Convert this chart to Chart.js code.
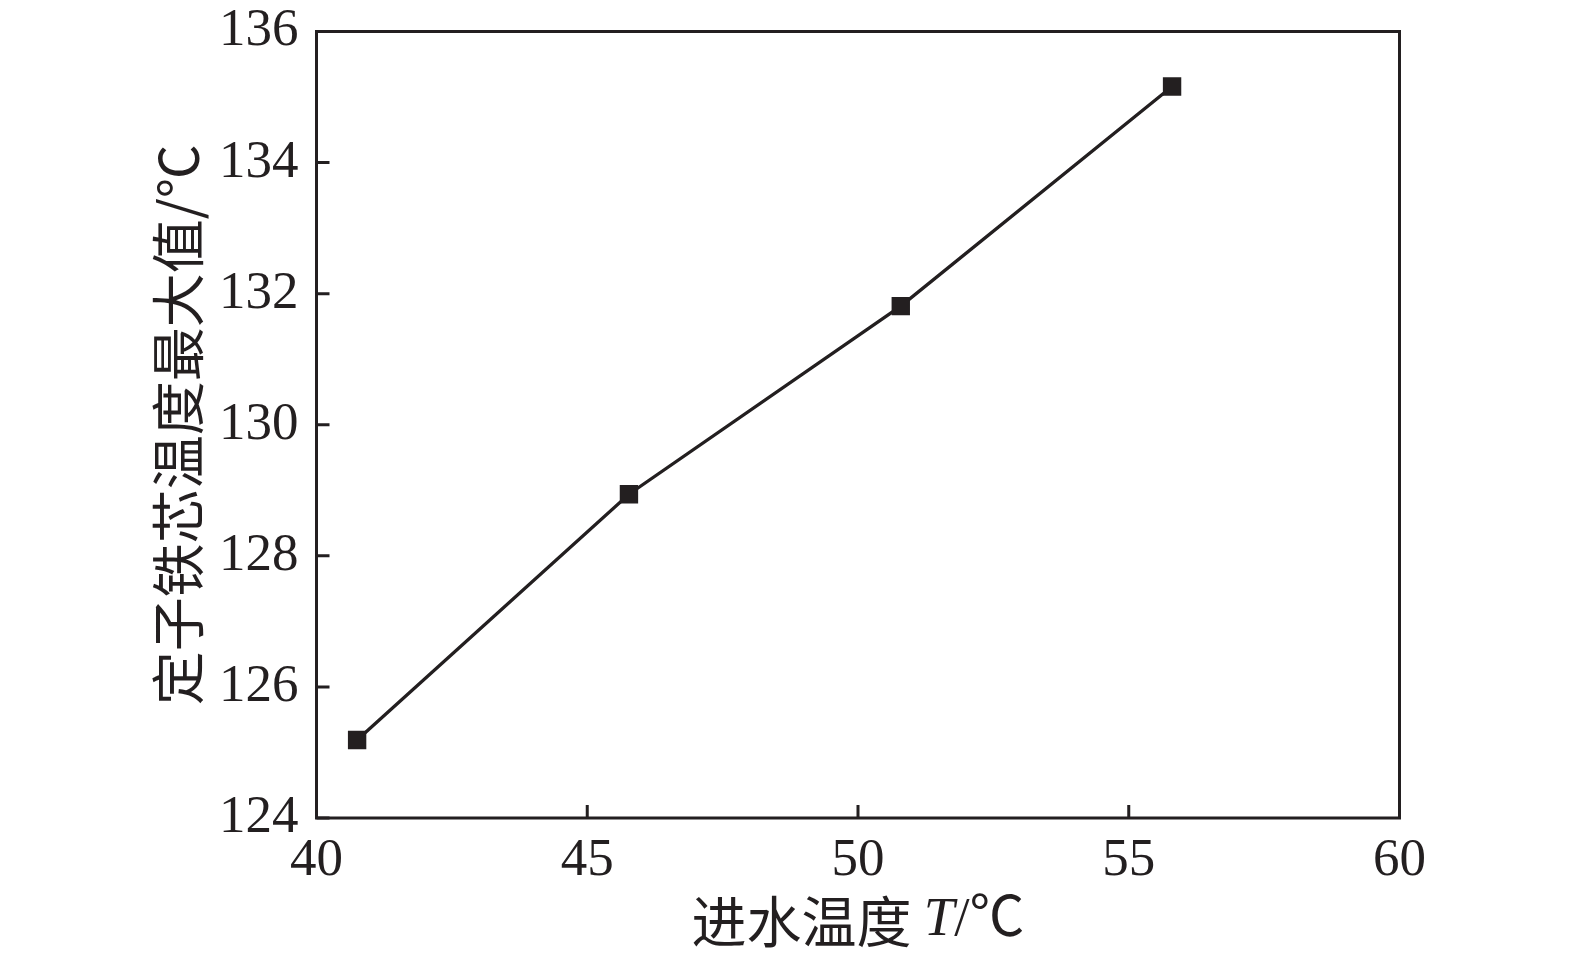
<!DOCTYPE html>
<html>
<head>
<meta charset="utf-8">
<script src="https://cdn.jsdelivr.net/npm/chart.js@4.4.0/dist/chart.umd.min.js"></script>
<style>
  html, body { margin: 0; padding: 0; background: #ffffff; }
  #wrap { width: 1575px; height: 960px; }
</style>
</head>
<body>
<div id="wrap"><canvas id="c" width="1575" height="960"></canvas></div>
<script>
// Data
const inletTemps = [40.75, 45.77, 50.79, 55.80];          // 进水温度 T/℃
const coreMaxTemps = [125.19, 128.94, 131.81, 135.16];     // 定子铁芯温度最大值/℃
const xTickValues = [40, 45, 50, 55, 60];
const yTickValues = [124, 126, 128, 130, 132, 134, 136];
const yTitle = '定子铁芯温度最大值/℃';
const xTitleParts = ['进水温度 ', 'T', '/℃'];

const INK = '#231f20';
const SERIF = "'Liberation Serif', 'Times New Roman', 'Noto Sans CJK SC', serif";
const CJK = "'Noto Sans CJK SC', 'Liberation Serif', serif";

const frameAndTicks = {
  id: 'frameAndTicks',
  afterDraw(chart) {
    const ctx = chart.ctx;
    const a = chart.chartArea;
    const xs = chart.scales.x, ys = chart.scales.y;
    ctx.save();
    ctx.strokeStyle = INK;
    ctx.lineWidth = 3;
    ctx.lineCap = 'butt';
    ctx.beginPath();
    xs.ticks.forEach(t => {
      const px = xs.getPixelForValue(t.value);
      ctx.moveTo(px, a.bottom);
      ctx.lineTo(px, a.bottom - 13);
    });
    ys.ticks.forEach(t => {
      const py = ys.getPixelForValue(t.value);
      ctx.moveTo(a.left, py);
      ctx.lineTo(a.left + 13, py);
    });
    ctx.stroke();
    ctx.lineJoin = 'miter';
    ctx.strokeRect(a.left, a.top, a.right - a.left, a.bottom - a.top);
    // x-axis title with italic T
    const fonts = ["55px " + CJK, "italic 55px " + SERIF, "55px " + SERIF];
    let total = 0;
    const widths = xTitleParts.map((s, i) => { ctx.font = fonts[i]; const w = ctx.measureText(s).width; total += w; return w; });
    let x = (a.left + a.right) / 2 - total / 2;
    const y = 921;
    ctx.fillStyle = INK;
    ctx.textBaseline = 'middle';
    ctx.textAlign = 'left';
    xTitleParts.forEach((s, i) => {
      ctx.font = fonts[i];
      ctx.fillText(s, x, y);
      x += widths[i];
    });
    ctx.restore();
  }
};

new Chart(document.getElementById('c'), {
  type: 'line',
  data: {
    datasets: [{
      data: inletTemps.map((v, i) => ({ x: v, y: coreMaxTemps[i] })),
      borderColor: INK,
      borderWidth: 3.3,
      backgroundColor: INK,
      pointStyle: 'rect',
      pointRadius: 13,
      pointHoverRadius: 13,
      pointBorderWidth: 0,
      pointBackgroundColor: INK,
      tension: 0,
      fill: false
    }]
  },
  options: {
    responsive: false,
    animation: false,
    devicePixelRatio: 1,
    layout: { padding: { left: 0, top: 31.5, right: 175.5, bottom: 0 } },
    plugins: { legend: { display: false }, tooltip: { enabled: false } },
    scales: {
      x: {
        type: 'linear',
        min: 40, max: 60,
        afterBuildTicks(scale) { scale.ticks = xTickValues.map(v => ({ value: v })); },
        afterFit(scale) { scale.height = 142; scale.paddingLeft = 0; scale.paddingRight = 0; scale.paddingTop = 0; scale.paddingBottom = 0; },
        grid: { display: false, drawTicks: false },
        border: { display: false },
        ticks: {
          padding: 17,
          color: INK,
          font: { family: SERIF, size: 53, lineHeight: 1 },
          maxRotation: 0
        },
        title: { display: false }
      },
      y: {
        type: 'linear',
        min: 124, max: 136,
        afterBuildTicks(scale) { scale.ticks = yTickValues.map(v => ({ value: v })); },
        afterFit(scale) { scale.width = 316.5; scale.paddingTop = 0; scale.paddingBottom = 0; scale.paddingLeft = 0; scale.paddingRight = 0; },
        grid: { display: false, drawTicks: false },
        border: { display: false },
        ticks: {
          padding: 18,
          color: INK,
          font: { family: SERIF, size: 53, lineHeight: 1 }
        },
        title: {
          display: true,
          text: yTitle,
          color: INK,
          font: { family: CJK, size: 54, lineHeight: 1.2 },
          padding: { top: 146, bottom: 0 }
        }
      }
    }
  },
  plugins: [frameAndTicks]
});
</script>
</body>
</html>
